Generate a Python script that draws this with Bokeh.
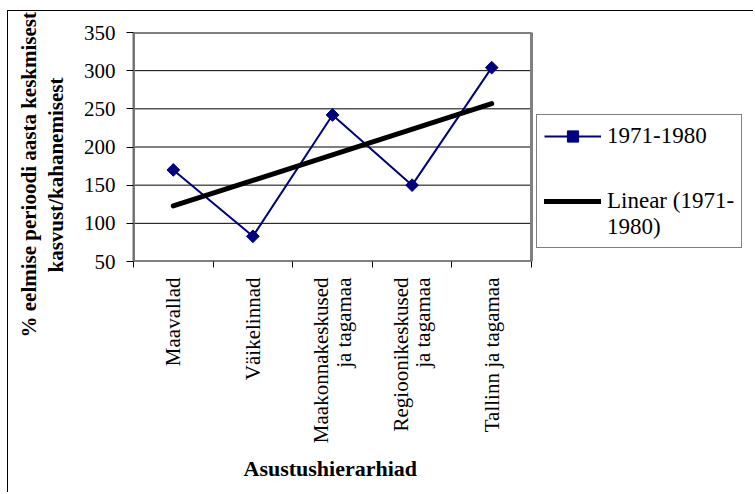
import numpy as np
from bokeh.plotting import figure
from bokeh.models import (Range1d, LinearAxis, FixedTicker, Title,
                          Legend, LegendItem, ColumnDataSource)
from bokeh.embed import file_html
from bokeh.resources import INLINE

# ---- data ----
categories = ["Maavallad", "Väikelinnad", "Maakonnakeskused ja tagamaa",
              "Regioonikeskused ja tagamaa", "Tallinn ja tagamaa"]
category_labels = ["Maavallad", "Väikelinnad", "Maakonnakeskused\nja tagamaa",
                   "Regioonikeskused\nja tagamaa", "Tallinn ja tagamaa"]
values_1971_1980 = [170, 83, 242, 150, 304]
y_ticks = [50, 100, 150, 200, 250, 300, 350]
series_name = "1971-1980"
trend_name = "Linear (1971-\n1980)"
x_title = "Asustushierarhiad"
y_title_lines = ["% eelmise perioodi aasta keskmisest", "kasvust/kahanemisest"]

FONT = "Liberation Serif"
n = len(categories)
x_pos = [i + 0.5 for i in range(n)]   # category centres on the category scale

W, H = 746, 482
LEFT, TOP, BOTTOM = 125, 21, 232
PLOT_W = 398                     # width of the category area in px
x_end = n * (W - LEFT) / PLOT_W   # frame extends right to hold the legend

p = figure(width=W, height=H,
           x_range=Range1d(0, x_end),
           y_range=Range1d(y_ticks[0], y_ticks[-1]),
           x_axis_location=None,
           output_backend="svg", toolbar_location=None,
           min_border_left=LEFT, min_border_right=0,
           min_border_top=TOP, min_border_bottom=BOTTOM)
p.styles = {"margin-left": "7px", "margin-top": "10px",
            "border-top": "1px solid black", "border-left": "1px solid black"}

p.outline_line_color = None
p.background_fill_color = "white"
p.border_fill_color = "white"
p.xgrid.grid_line_color = None
p.ygrid.grid_line_color = None

# y axis
p.yaxis.ticker = FixedTicker(ticks=y_ticks)
p.yaxis.major_label_text_font = FONT
p.yaxis.major_label_text_font_size = "21px"
p.yaxis.major_label_text_color = "black"
p.yaxis.axis_line_color = "#707070"
p.yaxis.axis_line_width = 2
p.yaxis.major_tick_out = 7
p.yaxis.major_tick_in = 0
p.yaxis.major_tick_line_color = "black"
p.yaxis.minor_tick_line_color = None
p.yaxis.major_label_standoff = 11
p.yaxis.axis_label = "\u00a0"
p.yaxis.axis_label_text_font_size = "1px"
p.yaxis.axis_label_standoff = 7

# y axis title, two lines
for line, off in ((y_title_lines[1], -11), (y_title_lines[0], -76)):
    p.add_layout(Title(text=line, align="left", offset=off, vertical_align="middle",
                       standoff=1, text_font=FONT, text_font_style="bold",
                       text_font_size="21px", text_color="black"), "left")

# x axis (category boundaries as ticks)
xa = LinearAxis(ticker=FixedTicker(ticks=x_pos, minor_ticks=list(range(n + 1))))
xa.major_label_overrides = {x: lab for x, lab in zip(x_pos, category_labels)}
xa.major_label_orientation = np.pi / 2
xa.major_label_text_font = FONT
xa.major_label_text_font_size = "21px"
xa.major_label_text_line_height = 0.95
xa.major_label_text_color = "black"
xa.major_tick_line_color = None
xa.major_tick_out = 6
xa.major_tick_in = 0
xa.minor_tick_out = 6
xa.minor_tick_in = 0
xa.minor_tick_line_color = "black"
xa.axis_line_color = None
xa.major_label_standoff = 10
p.add_layout(xa, "below")

p.add_layout(Title(text=x_title, align="left", offset=110, vertical_align="middle",
                   standoff=16, text_font=FONT, text_font_style="bold",
                   text_font_size="22px", text_color="black"), "below")

# grid lines and plot-area border over the category area
k = len(y_ticks)
p.segment(x0=[0] * k, x1=[n] * k, y0=y_ticks, y1=y_ticks,
          line_color="black", line_width=1)
p.quad(left=[0], right=[n], bottom=[y_ticks[0]], top=[y_ticks[-1]],
       fill_color=None, line_color="#808080", line_width=3)

# series
src = ColumnDataSource(dict(x=x_pos, cat=categories, val=values_1971_1980))
r_line = p.line("x", "val", source=src, line_color="#000080", line_width=2)
r_pts = p.scatter("x", "val", source=src, marker="square", angle=np.pi / 4,
                  size=9, fill_color="#000080", line_color="#000080")

# linear trend
xi = np.arange(1, n + 1)
slope, intercept = np.polyfit(xi, values_1971_1980, 1)
trend_src = ColumnDataSource(dict(x=[x_pos[0], x_pos[-1]],
                                  val=[slope * 1 + intercept, slope * n + intercept]))
r_trend = p.line("x", "val", source=trend_src, line_color="black",
                 line_width=5, line_cap="round")

legend = Legend(items=[LegendItem(label=series_name, renderers=[r_line, r_pts]),
                       LegendItem(label="\u00a0\n" + trend_name, renderers=[r_trend])],
                location=(403, 13))
legend.border_line_color = "black"
legend.border_line_width = 1
legend.background_fill_color = "white"
legend.background_fill_alpha = 1
legend.padding = 7
legend.spacing = 12
legend.margin = 0
legend.glyph_width = 57
legend.glyph_height = 28
legend.label_standoff = 6
legend.label_text_font = FONT
legend.label_text_font_size = "23px"
legend.label_text_color = "black"
p.add_layout(legend)

open("out.html", "w").write(file_html(p, INLINE))
